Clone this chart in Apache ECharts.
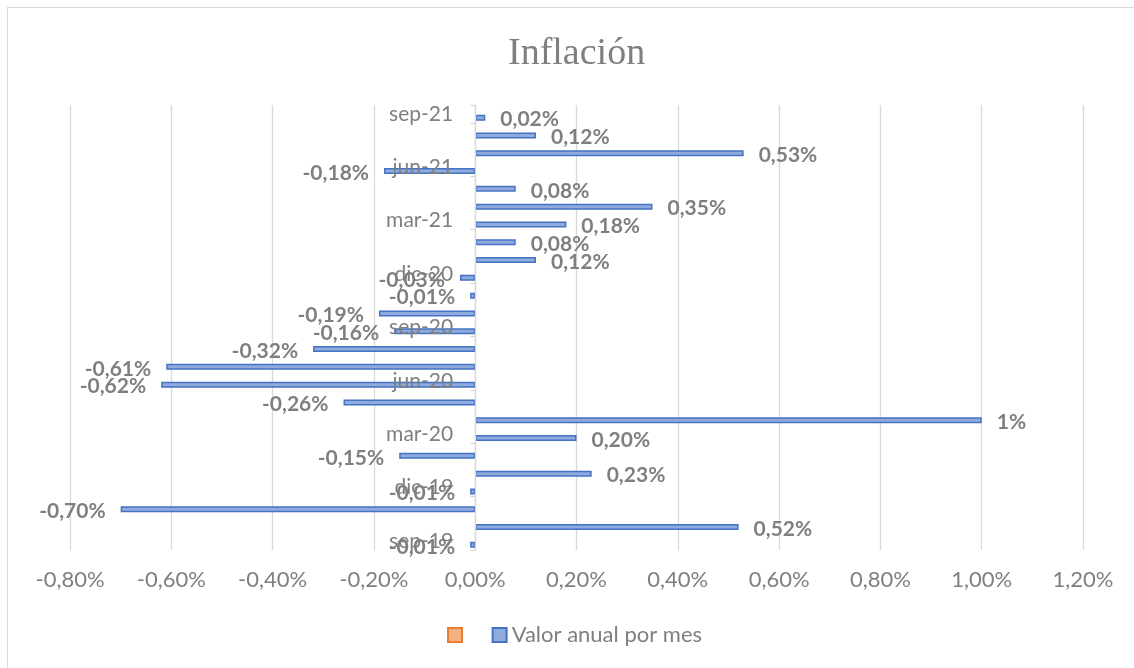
<!DOCTYPE html>
<html>
<head>
<meta charset="utf-8">
<script src="https://cdn.jsdelivr.net/npm/echarts@6/dist/echarts.min.js"></script>
<style>
html,body{margin:0;padding:0;background:#fff;}
#frame{position:absolute;left:7px;top:7px;width:1140px;height:680px;border:1.5px solid #d9d9d9;box-sizing:border-box;}
#chart{position:absolute;left:0;top:0;width:1134px;height:668px;}
</style>
</head>
<body>
<div id="frame"></div>
<div id="chart"></div>
<script>
var categories = ['sep-19','oct-19','nov-19','dic-19','ene-20','feb-20','mar-20','abr-20','may-20','jun-20','jul-20','ago-20','sep-20','oct-20','nov-20','dic-20','ene-21','feb-21','mar-21','abr-21','may-21','jun-21','jul-21','ago-21','sep-21'];
var valores = [-0.01,0.52,-0.70,-0.01,0.23,-0.15,0.20,1.00,-0.26,-0.62,-0.61,-0.32,-0.16,-0.19,-0.01,-0.03,0.12,0.08,0.18,0.35,0.08,-0.18,0.53,0.12,0.02];
var otraSerie = [];
var xTicks = {min:-0.8, max:1.2, interval:0.2};

var gray = '#7f7f7f';
var font = 'Lato';
function pct(v){ return (Number.isInteger(v) ? String(v) : v.toFixed(2).replace('.', ',')) + '%'; }

var gridLeft = 70, gridRight = 51;
var plotW = 1134 - gridLeft - gridRight;
var zeroOffset = -plotW * (0 - xTicks.min) / (xTicks.max - xTicks.min);

var dataItems = valores.map(function(v){
  return {value:v, label:{position: v < 0 ? 'left' : 'right'}};
});

var chart = echarts.init(document.getElementById('chart'), null, {renderer:'canvas'});
chart.setOption({
  animation:false,
  backgroundColor:'transparent',
  title:{text:'Inflación', left:503, top:30, textStyle:{fontFamily:'Liberation Serif', fontSize:38, fontWeight:'normal', color:gray}},
  legend:{
    data:[' ','Valor anual por mes'],
    icon:'rect',
    left:442, top:619, itemWidth:14, itemHeight:14, itemGap:19,
    textStyle:{fontFamily:font, fontSize:22, color:gray}
  },
  grid:{left:gridLeft, right:gridRight, top:105, bottom:118, containLabel:false, outerBoundsMode:'none'},
  xAxis:{
    type:'value', min:xTicks.min, max:xTicks.max, interval:xTicks.interval,
    axisLine:{show:false}, axisTick:{show:false},
    splitLine:{lineStyle:{color:'#d9d9d9', width:1.3}},
    axisLabel:{margin:19, fontFamily:font, fontSize:22, color:gray, formatter:function(v){ return (Math.round(v*100)/100).toFixed(2).replace('.', ',') + '%'; }}
  },
  yAxis:{
    type:'category', data:categories, position:'left', offset:zeroOffset, z:5,
    axisLine:{onZero:false, lineStyle:{color:'#d9d9d9', width:1.3}},
    axisTick:{show:true, interval:2, length:5, lineStyle:{color:'#d9d9d9', width:1.3}},
    axisLabel:{interval:2, margin:22, fontFamily:font, fontSize:21, color:gray}
  },
  series:[
    {
      name:' ', type:'bar', data:otraSerie,
      barWidth:6, barGap:'25%',
      itemStyle:{color:'#F4B183', borderColor:'#ED7D31', borderWidth:1.5}
    },
    {
      name:'Valor anual por mes', type:'bar', data:dataItems,
      barWidth:6, barGap:'25%', z:2,
      itemStyle:{color:'#8FAADC', borderColor:'#4472C4', borderWidth:1.5},
      label:{
        show:true, fontFamily:font, fontSize:21, fontWeight:'bold', color:gray,
        distance:15, offset:[0,2],
        formatter:function(p){ return pct(p.value); }
      }
    }
  ]
});
</script>
</body>
</html>
